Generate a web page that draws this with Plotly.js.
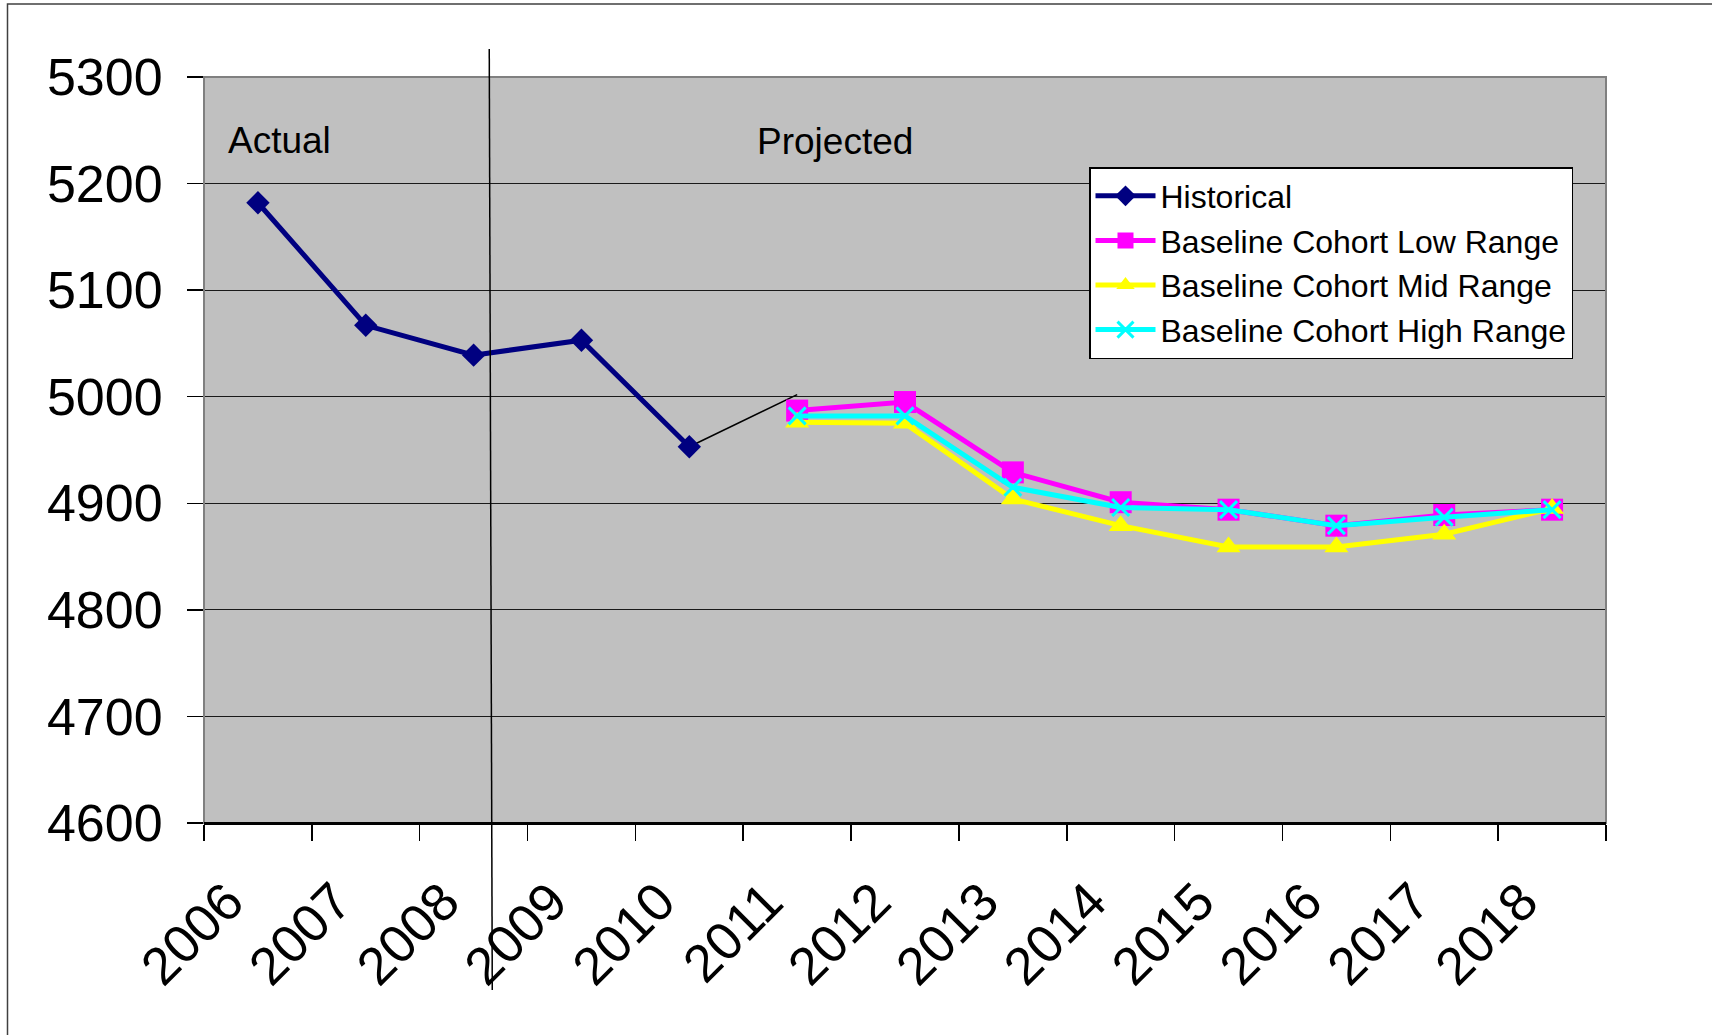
<!DOCTYPE html>
<html>
<head>
<meta charset="utf-8">
<script src="https://cdn.plot.ly/plotly-3.0.1.min.js"></script>
<style>html,body{margin:0;padding:0;background:#fff;}#chart{width:1712px;height:1035px;}</style>
</head>
<body>
<div id="chart"></div>
<script>
var years = ['2006','2007','2008','2009','2010','2011','2012','2013','2014','2015','2016','2017','2018'];
var historical = [5182, 5067, 5039, 5053, 4953, null, null, null, null, null, null, null, null];
var connector = [null, null, null, null, 4953, 5002, null, null, null, null, null, null, null];
var lowRange  = [null, null, null, null, null, 4987, 4995, 4929, 4901, 4894, 4879, 4889, 4894];
var midRange  = [null, null, null, null, null, 4976, 4975, 4904, 4879, 4859, 4859, 4871, 4895];
var highRange = [null, null, null, null, null, 4982, 4982, 4915, 4896, 4894, 4879, 4887, 4894];
var yTicks = [4600, 4700, 4800, 4900, 5000, 5100, 5200, 5300];

var FONT = 'Liberation Sans, Arial, sans-serif';

var traces = [
  {x: years, y: connector, type: 'scatter', mode: 'lines', showlegend: false,
   line: {color: '#000000', width: 1.5}, hoverinfo: 'skip'},
  {x: years, y: historical, name: 'Historical', type: 'scatter', mode: 'lines+markers',
   line: {color: '#000080', width: 5}, marker: {symbol: 'diamond', size: 18, color: '#000080'}},
  {x: years, y: lowRange, name: 'Baseline Cohort Low Range', type: 'scatter', mode: 'lines+markers',
   line: {color: '#FF00FF', width: 5}, marker: {symbol: 'square', size: 22, color: '#FF00FF'}},
  {x: years, y: midRange, name: 'Baseline Cohort Mid Range', type: 'scatter', mode: 'lines+markers',
   line: {color: '#FFFF00', width: 5}, marker: {symbol: 'triangle-up', size: 21, color: '#FFFF00'}},
  {x: years, y: highRange, name: 'Baseline Cohort High Range', type: 'scatter', mode: 'lines+markers',
   line: {color: '#00FFFF', width: 5}, marker: {symbol: 'x-thin-open', size: 17, color: '#00FFFF', line: {color: '#00FFFF', width: 3}}}
];

var L = 204, R = 106, T = 77, B = 212, W = 1712, H = 1035;
var pw = W - L - R, ph = H - T - B;
function px(p) { return (p - L) / pw; }
function py(p) { return (H - B - p) / ph; }

var layout = {
  width: W, height: H,
  margin: {l: L, r: R, t: T, b: B, pad: 0},
  paper_bgcolor: '#ffffff',
  plot_bgcolor: '#C0C0C0',
  font: {family: FONT, color: '#000000'},
  showlegend: true,
  legend: {
    x: px(1089), y: py(167), xanchor: 'left', yanchor: 'top',
    bgcolor: '#ffffff', bordercolor: '#000000', borderwidth: 1.5,
    font: {family: FONT, size: 32, color: '#000000'},
    itemwidth: 60, tracegroupgap: 0
  },
  xaxis: {
    type: 'category', categoryorder: 'array', categoryarray: years,
    range: [-0.5, 12.5], fixedrange: true,
    tickson: 'boundaries', ticks: 'outside', ticklen: 16, tickwidth: 1.5, tickcolor: '#000000',
    tickangle: -45, tickfont: {family: FONT, size: 53, color: '#000000'},
    ticklabelstandoff: 24, ticklabelshift: -30,
    showgrid: false, showline: true, linecolor: '#000000', linewidth: 2, zeroline: false
  },
  yaxis: {
    range: [4600, 5300], tickvals: yTicks, ticktext: yTicks.map(String), fixedrange: true,
    ticks: 'outside', ticklen: 16, tickwidth: 1.5, tickcolor: '#000000',
    tickfont: {family: FONT, size: 52, color: '#000000'}, ticklabelstandoff: 14,
    showgrid: true, gridcolor: '#1a1a1a', gridwidth: 1.2,
    showline: false, zeroline: false
  },
  shapes: [
    {type: 'rect', xref: 'paper', yref: 'paper', x0: 0, x1: 1, y0: 0, y1: 1,
     line: {color: '#808080', width: 2}, layer: 'above'},
    {type: 'line', xref: 'paper', yref: 'paper', x0: 0, x1: 1, y0: 0, y1: 0,
     line: {color: '#000000', width: 2}, layer: 'above'},
    {type: 'line', xref: 'x', yref: 'paper', x0: 2.145, x1: 2.173, y0: py(49), y1: py(990),
     line: {color: '#000000', width: 1.5}, layer: 'above'},
    {type: 'rect', xref: 'paper', yref: 'paper', x0: px(7.5), x1: px(1730), y0: py(4), y1: py(1050),
     line: {color: '#404040', width: 1.5}, layer: 'below'}
  ],
  annotations: [
    {text: 'Actual', xref: 'paper', yref: 'paper', x: px(226), y: py(141), xanchor: 'left', yanchor: 'middle',
     showarrow: false, font: {family: FONT, size: 37, color: '#000000'}},
    {text: 'Projected', xref: 'paper', yref: 'paper', x: px(755), y: py(142), xanchor: 'left', yanchor: 'middle',
     showarrow: false, font: {family: FONT, size: 37, color: '#000000'}}
  ]
};

Plotly.newPlot('chart', traces, layout, {displayModeBar: false, staticPlot: true});
</script>
</body>
</html>
